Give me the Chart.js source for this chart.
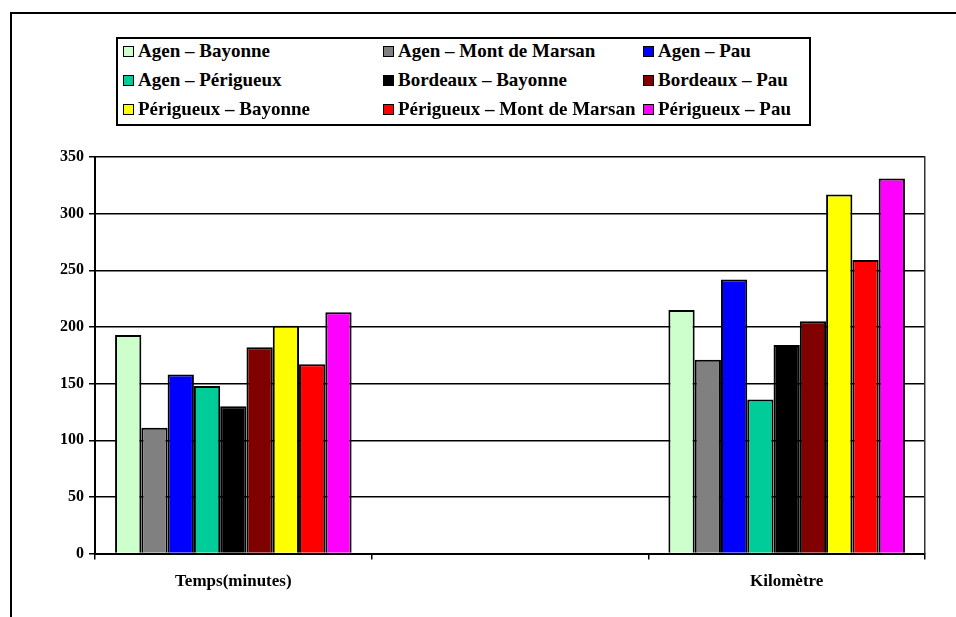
<!DOCTYPE html>
<html>
<head>
<meta charset="utf-8">
<script src="https://cdn.jsdelivr.net/npm/chart.js@4/dist/chart.umd.min.js"></script>
<style>
  html, body { margin: 0; padding: 0; background: #fff; }
  #wrap { position: relative; width: 956px; height: 617px; overflow: hidden; }
  #frame { position: absolute; left: 10px; top: 12px; width: 960px; height: 620px; border: 2px solid #000; box-sizing: border-box; }
  #legend { position: absolute; left: 116px; top: 37px; width: 695px; height: 89px; border: 2px solid #000; box-sizing: border-box; background: #fff; }
  .item { position: absolute; height: 29px; line-height: 29px; white-space: nowrap; font: bold 19px "Liberation Serif", "DejaVu Serif", serif; color: #000; }
  .box { display: inline-block; width: 11px; height: 11px; border: 1.5px solid #000; box-sizing: border-box; margin-right: 4px; vertical-align: 0px; }
  canvas { position: absolute; left: 0; top: 0; }
</style>
</head>
<body>
<div id="wrap">
  <div id="frame"></div>
  <canvas id="barChart" width="956" height="617"></canvas>
  <div id="legend"></div>
</div>
<script>
// catégories (celle du milieu est vide)
const categories = ['Temps(minutes)', '', 'Kilomètre'];
const trajets = [
    'Agen – Bayonne', 'Agen – Mont de Marsan', 'Agen – Pau',
    'Agen – Périgueux', 'Bordeaux – Bayonne', 'Bordeaux – Pau',
    'Périgueux – Bayonne', 'Périgueux – Mont de Marsan', 'Périgueux – Pau'
];
const couleurs = [
    '#CCFFCC', '#808080', '#0000FF',
    '#00CC99', '#000000', '#800000',
    '#FFFF00', '#FF0000', '#FF00FF'
];
const temps = [193, 111, 158, 148, 130, 182, 201, 167, 213];
const kilometres = [215, 171, 242, 136, 184, 205, 317, 259, 331];
const yTicks = [0, 50, 100, 150, 200, 250, 300, 350];

const police = "'Liberation Serif', 'DejaVu Serif', serif";

const datasets = trajets.map((nom, i) => ({
    label: nom,
    data: [temps[i], null, kilometres[i]],
    backgroundColor: couleurs[i],
    borderColor: '#000',
    borderWidth: 2,
    barPercentage: 1,
    categoryPercentage: 0.855
}));

const ctx = document.getElementById('barChart').getContext('2d');
const chart = new Chart(ctx, {
    type: 'bar',
    data: { labels: categories, datasets: datasets },
    options: {
        responsive: false,
        animation: false,
        layout: { padding: { top: 157, left: 55, right: 31, bottom: 13 } },
        plugins: { legend: { display: false }, tooltip: { enabled: false } },
        scales: {
            x: {
                grid: { offset: true, drawOnChartArea: false, drawTicks: true, tickLength: 6, color: '#000', lineWidth: 1.5 },
                border: { color: '#000', width: 2 },
                ticks: { color: '#000', padding: 12, font: { family: police, size: 17, weight: 'bold' } }
            },
            y: {
                min: 0,
                max: 350,
                afterBuildTicks: axis => { axis.ticks = yTicks.map(v => ({ value: v })); },
                grid: { color: '#000', lineWidth: 1.5, tickLength: 6 },
                border: { color: '#000', width: 2 },
                ticks: { color: '#000', padding: 5, font: { family: police, size: 16, weight: 'bold' } }
            },
            y2: {
                position: 'right',
                min: 0,
                max: 350,
                grid: { drawOnChartArea: false, drawTicks: false },
                border: { color: '#333', width: 1.5 },
                ticks: { display: false }
            }
        }
    }
});

// légende en grille 3 x 3
const legend = document.getElementById('legend');
const colX = [5, 265, 525];
chart.data.datasets.forEach((ds, i) => {
    const item = document.createElement('div');
    item.className = 'item';
    item.style.left = colX[i % 3] + 'px';
    item.style.top = (Math.floor(i / 3) * 29 + 1) + 'px';
    const box = document.createElement('span');
    box.className = 'box';
    box.style.background = ds.backgroundColor;
    item.appendChild(box);
    item.appendChild(document.createTextNode(ds.label));
    legend.appendChild(item);
});
</script>
</body>
</html>
